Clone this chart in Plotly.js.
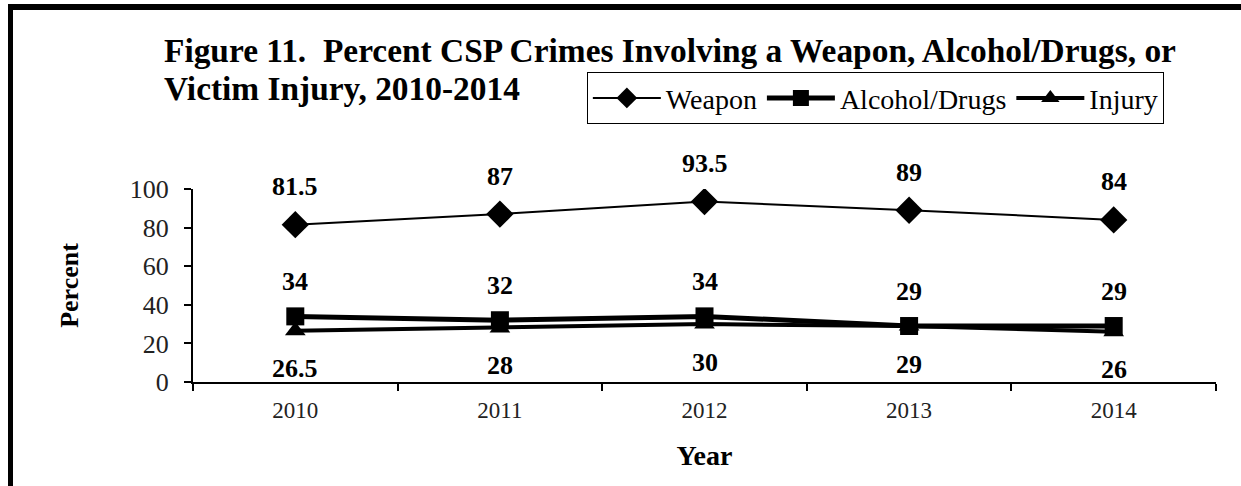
<!DOCTYPE html>
<html>
<head>
<meta charset="utf-8">
<script src="https://cdn.plot.ly/plotly-3.0.1.min.js"></script>
<style>
html,body{margin:0;padding:0;background:#fff;}
#wrap{position:relative;width:1241px;height:486px;overflow:hidden;}
#chart{position:absolute;left:0;top:0;width:1241px;height:486px;}
#btop{position:absolute;left:8px;top:4px;width:1233px;height:6px;background:#000;pointer-events:none;}
#bleft{position:absolute;left:8px;top:4px;width:5px;height:482px;background:#000;pointer-events:none;}
</style>
</head>
<body>
<div id="wrap">
<div id="chart"></div>
<div id="btop"></div>
<div id="bleft"></div>
</div>
<script>
const years = ['2010','2011','2012','2013','2014'];
const weapon = [81.5, 87, 93.5, 89, 84];
const alcohol = [34, 32, 34, 29, 29];
const injury = [26.5, 28, 30, 29, 26];
const weaponLabels = ['81.5','87','93.5','89','84'];
const alcoholLabels = ['34','32','34','29','29'];
const injuryLabels = ['26.5','28','30','29','26'];
const titleLine1 = 'Figure 11.  Percent CSP Crimes Involving a Weapon, Alcohol/Drugs, or';
const titleLine2 = 'Victim Injury, 2010-2014';

const serif = '"Liberation Serif", "Times New Roman", serif';

const traces = [
  {x: years, y: weapon, name: 'Weapon', mode: 'lines+markers', type: 'scatter',
   line: {color: '#000', width: 2}, marker: {symbol: 'diamond', size: 21, color: '#000'}},
  {x: years, y: alcohol, name: 'Alcohol/Drugs', mode: 'lines+markers', type: 'scatter',
   line: {color: '#000', width: 5}, marker: {symbol: 'square', size: 18, color: '#000'}},
  {x: years, y: injury, name: 'Injury', mode: 'lines+markers', type: 'scatter',
   line: {color: '#000', width: 4}, marker: {symbol: 'triangle-up', size: 18, color: '#000'}}
];

const annotations = [];
function addLabels(vals, labels, shift) {
  vals.forEach((v, i) => {
    annotations.push({x: i, y: v, xref: 'x', yref: 'y', text: '<b>' + labels[i] + '</b>',
      showarrow: false, yshift: shift, font: {family: serif, size: 26, color: '#000'}});
  });
}
addLabels(weapon, weaponLabels, 38);
addLabels(alcohol, alcoholLabels, 35);
addLabels(injury, injuryLabels, -38);

annotations.push({xref: 'paper', yref: 'paper', x: -0.03, y: 1.72, xanchor: 'left', yanchor: 'middle',
  text: '<b>' + titleLine1 + '</b>', showarrow: false, font: {family: serif, size: 33.4, color: '#000'}});
annotations.push({xref: 'paper', yref: 'paper', x: -0.03, y: 1.52, xanchor: 'left', yanchor: 'middle',
  text: '<b>' + titleLine2 + '</b>', showarrow: false, font: {family: serif, size: 33.4, color: '#000'}});

const layout = {
  width: 1241, height: 486,
  paper_bgcolor: '#fff', plot_bgcolor: '#fff',
  margin: {l: 193, r: 25, t: 189, b: 104},
  showlegend: true,
  legend: {orientation: 'h', x: 0.385, xanchor: 'left', y: 1.605, yanchor: 'top',
    bordercolor: '#000', borderwidth: 1, bgcolor: '#fff', itemwidth: 68,
    font: {family: serif, size: 28, color: '#000'}, tracegroupgap: 0},
  xaxis: {type: 'category', range: [-0.5, 4.5], showgrid: false, showline: true, linecolor: '#000', linewidth: 2,
    ticks: 'outside', tickson: 'boundaries', ticklen: 7, tickwidth: 2, tickcolor: '#000',
    ticklabelstandoff: 6,
    tickfont: {family: serif, size: 23, color: '#222'},
    title: {text: '<b>Year</b>', font: {family: serif, size: 28, color: '#000'}, standoff: 24},
    zeroline: false, fixedrange: true},
  yaxis: {range: [0, 100], dtick: 20, showgrid: false, showline: true, linecolor: '#000', linewidth: 2,
    ticks: 'outside', ticklen: 7, tickwidth: 2, tickcolor: '#000',
    ticklabelstandoff: 10,
    tickfont: {family: serif, size: 26, color: '#222'},
    title: {text: '<b>Percent</b>', font: {family: serif, size: 26, color: '#000'}, standoff: 44},
    zeroline: false, fixedrange: true},
  annotations: annotations
};

Plotly.newPlot('chart', traces, layout, {displayModeBar: false, staticPlot: true});
</script>
</body>
</html>
